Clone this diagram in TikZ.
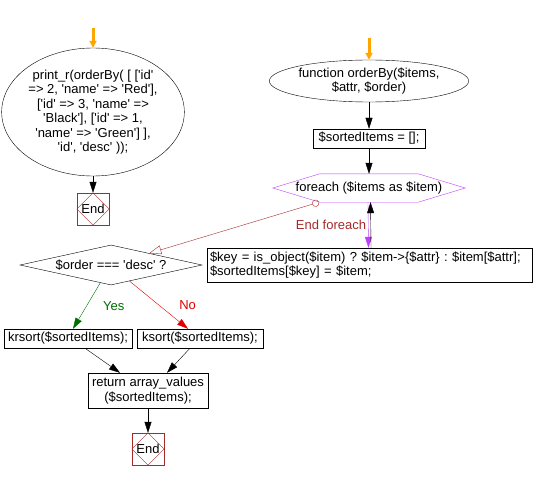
\documentclass[tikz,border=0pt]{standalone}
\usepackage{fontspec}
\setmainfont{Liberation Sans}[Ligatures=TeXOff]
\usetikzlibrary{positioning, arrows.meta, shapes.geometric}

\definecolor{endred}{HTML}{A52A2A}
\definecolor{loopviolet}{HTML}{BF3FFF}
\definecolor{yesgreen}{HTML}{006E00}
\definecolor{nored}{HTML}{E00000}
\definecolor{startorange}{HTML}{FFA500}

\begin{document}
\frenchspacing
\begin{tikzpicture}[x=1pt, y=-1pt, font=\fontsize{13}{14.5}\selectfont,
    term/.style={ellipse, draw, inner sep=0pt, align=center},
    proc/.style={rectangle, draw, inner sep=2pt},
    decision/.style={diamond, draw, inner sep=0pt, shape aspect=4.5, minimum width=182pt, minimum height=40pt},
    loopbox/.style={rectangle, inner sep=0pt, minimum width=192pt, minimum height=28pt},
    endbox/.style={rectangle, draw=endred, minimum size=32pt, inner sep=0pt},
    flow/.style={-{Triangle[length=11pt, width=7pt]}},
    startflow/.style={draw=startorange, line width=3pt, -{Triangle[length=7pt, width=7pt]}}]
    \useasboundingbox (0,0) rectangle (534,481);

    \coordinate (start1) at (93,28);
    \coordinate (start2) at (369,38);

    \node[term, minimum width=177pt, minimum height=128pt] (main) at (93,112) {print\_r(orderBy( [ ['id'\\=> 2, 'name' => 'Red'],\\{}['id' => 3, 'name' =>\\'Black'], ['id' => 1,\\'name' => 'Green'] ],\\'id', 'desc' ));};
    \node[endbox] (end1) at (93,209) {End};
    \draw[endred] (end1.north) -- (end1.east) -- (end1.south) -- (end1.west) -- cycle;

    \node[term, minimum width=168pt, minimum height=42pt] (func) at (369,81) {function orderBy(\$items,\\\$attr, \$order)};
    \node[proc, minimum width=112pt, minimum height=19pt] (init) at (369,138.5) {\$sortedItems = [];};
    \node[loopbox] (loop) at (369,188) {foreach (\$items as \$item)};
    \draw[loopviolet] (loop.west) -- ([xshift=47pt]loop.north west) -- ([xshift=-47pt]loop.north east) -- (loop.east) -- ([xshift=-47pt]loop.south east) -- ([xshift=47pt]loop.south west) -- cycle;
    \node[proc, inner sep=3pt, text width=319pt, minimum height=34pt, align=left] (body) at (369.5,265) {\$key = is\_object(\$item) ? \$item->\{\$attr\} : \$item[\$attr];\\\$sortedItems[\$key] = \$item;};

    \node[decision] (test) at (111,265) {\$order === 'desc' ?};
    \node[proc, minimum width=128pt, minimum height=19pt] (krs) at (68,338.5) {krsort(\$sortedItems);};
    \node[proc, minimum width=126pt, minimum height=19pt] (ks) at (200,338.5) {ksort(\$sortedItems);};
    \node[proc, minimum width=120pt, minimum height=35pt, align=center] (ret) at (148,390.5) {return array\_values\\(\$sortedItems);};
    \node[endbox] (end2) at (148,449) {End};
    \draw[endred] (end2.north) -- (end2.east) -- (end2.south) -- (end2.west) -- cycle;

    \draw[startflow] (start1) -- (main);
    \draw[flow] (main) -- (end1);
    \draw[startflow] (start2) -- (func);
    \draw[flow] (func) -- (init);
    \draw[flow] (init) -- (loop);
    \draw[flow, draw=loopviolet] ([xshift=-1pt]loop.south) -- ([xshift=-1pt]body.north);
    \draw[flow] ([xshift=1.5pt]body.north) -- ([xshift=1.5pt]loop.south);
    \draw[endred, {Circle[open, length=7pt]}-{Triangle[open, length=12pt, width=9pt]}] ([xshift=-50pt]loop.south) -- node[at start, anchor=north, xshift=12pt, yshift=-14pt, text=endred] {End foreach} (test.17);
    \draw[flow, yesgreen] (test.239) -- node[midway, right=13pt] {Yes} ([xshift=5pt]krs.north);
    \draw[flow, nored] (test.319) -- node[midway, right=17pt] {No} ([xshift=-12pt]ks.north);
    \draw[flow] ([xshift=17pt]krs.south) -- ([xshift=-28pt]ret.north);
    \draw[flow] ([xshift=-10pt]ks.south) -- ([xshift=19pt]ret.north);
    \draw[flow] (ret) -- (end2);
\end{tikzpicture}
\end{document}
